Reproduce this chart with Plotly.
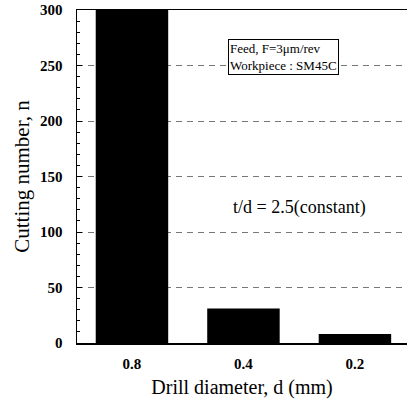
import plotly.graph_objects as go

# Drill diameter categories (mm) and cutting numbers
diameters = ["0.8", "0.4", "0.2"]
cutting_numbers = [300, 31, 8]
y_ticks = [0, 50, 100, 150, 200, 250, 300]

serif = "Liberation Serif, Times New Roman, serif"

fig = go.Figure()
fig.add_trace(go.Bar(
    x=diameters,
    y=cutting_numbers,
    width=0.65,
    marker=dict(color="black", line=dict(width=0)),
))

fig.update_layout(
    width=407, height=403,
    margin=dict(l=77, r=0, t=10, b=60),
    plot_bgcolor="white", paper_bgcolor="white",
    showlegend=False,
    font=dict(family=serif, color="black", size=16),
    xaxis=dict(
        type="category",
        range=[-0.493, 2.467],
        automargin=False,
        showline=True, linecolor="black", linewidth=1.5, mirror=True,
        ticks="", showgrid=False, zeroline=False,
        tickfont=dict(size=15, weight="bold"),
        ticklabelstandoff=6,
        title=dict(text="Drill diameter, d (mm)", font=dict(size=20), standoff=9),
    ),
    yaxis=dict(
        range=[0, 300],
        tickvals=y_ticks,
        automargin=False,
        showline=True, linecolor="black", linewidth=1.5, mirror=False,
        ticks="inside", ticklen=5, tickcolor="black",
        minor=dict(ticks="inside", ticklen=3, dtick=10, tickcolor="black", showgrid=False),
        showgrid=True, gridcolor="#777777", gridwidth=1, griddash="6px,5px",
        tickfont=dict(size=15, weight="bold"),
        ticklabelstandoff=10,
        title=dict(text="Cutting number, n", font=dict(size=21), standoff=4),
        zeroline=False,
    ),
)

# Condition box
fig.add_annotation(
    xref="x", yref="y", x=1.36, y=258,
    text="Feed, F=3\u03bcm/rev<br>Workpiece : SM45C",
    showarrow=False, align="left",
    font=dict(family=serif, size=13),
    bordercolor="black", borderwidth=1, borderpad=1, bgcolor="white",
)

fig.add_annotation(
    xref="x", yref="y", x=1.5, y=122,
    text="t/d = 2.5(constant)",
    showarrow=False,
    font=dict(family=serif, size=18),
)

fig.write_html("out.html", config={"staticPlot": True})
